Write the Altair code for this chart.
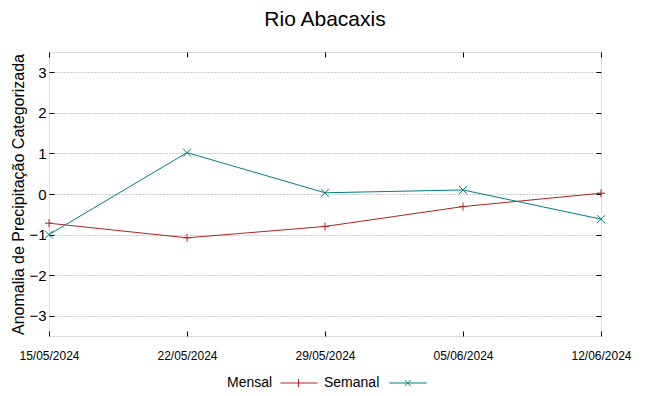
import altair as alt
import pandas as pd

dates = ["2024-05-15", "2024-05-22", "2024-05-29", "2024-06-05", "2024-06-12"]
mensal = [-0.72, -1.08, -0.80, -0.31, 0.02]
semanal = [-1.00, 1.02, 0.03, 0.10, -0.62]
series = ["Mensal", "Semanal"]
colors = ["#b22222", "#008080"]
y_ticks = [-3, -2, -1, 0, 1, 2, 3]

rows = []
for d, m, s in zip(dates, mensal, semanal):
    rows.append({"date": d, "serie": "Mensal", "valor": m})
    rows.append({"date": d, "serie": "Semanal", "valor": s})
df = pd.DataFrame(rows)

FONT = "Liberation Sans"
tick_vals = [alt.DateTime(year=int(d[:4]), month=int(d[5:7]), date=int(d[8:]), utc=True) for d in dates]

xscale = alt.Scale(type="utc", domain=[tick_vals[0], tick_vals[-1]], nice=False)
yscale = alt.Scale(domain=[-3.5, 3.5], nice=False, zero=False)

plus_path = "M-1,0L1,0M0,-1L0,1"
x_path = "M-1,-1L1,1M-1,1L1,-1"
# legend samples drawn to the right of their labels (gnuplot style)
leg_paths = {
    "Mensal": "M64.5,0L101.5,0M82.5,-4L82.5,4",
    "Semanal": "M76.5,0L113.5,0M91.8,-3L97.8,3M91.8,3L97.8,-3",
}
leg_x = {"Mensal": 160, "Semanal": 257}

INWARD = {"expr": "-5"}

color_scale = alt.Scale(domain=series, range=colors)

lines = alt.Chart(df).mark_line(strokeWidth=1, clip=False).encode(
    x=alt.X("date:T", scale=xscale, title=None,
            axis=alt.Axis(values=tick_vals, format="%d/%m/%Y",
                          orient="bottom", tickSize=INWARD, domain=False, grid=False,
                          labelFontSize=12, labelFont=FONT, labelColor="#000", labelPadding=19,
                          tickColor="#000", labelFlush=False)),
    y=alt.Y("valor:Q", scale=yscale,
            title="Anomalia de Precipitação Categorizada",
            axis=alt.Axis(values=y_ticks, orient="left", tickSize=INWARD, domain=False,
                          grid=True, gridColor="#999999", gridDash=[1, 2], gridWidth=1,
                          labelFontSize=15, labelFont=FONT, labelColor="#000", labelPadding=8,
                          tickColor="#000", titleFont=FONT, titleFontSize=16,
                          titleFontWeight="normal", titleColor="#000", titlePadding=2)),
    color=alt.Color("serie:N", scale=color_scale, legend=None),
)

points = alt.Chart(df).mark_point(filled=False, strokeWidth=1, size=64, clip=False, opacity=1).encode(
    x=alt.X("date:T", scale=xscale, title=None,
            axis=alt.Axis(values=tick_vals, orient="top", tickSize=INWARD, domain=False,
                          grid=False, labels=False, tickColor="#000")),
    y=alt.Y("valor:Q", scale=yscale, title=None,
            axis=alt.Axis(values=y_ticks, orient="right", tickSize=INWARD, domain=False,
                          grid=False, labels=False, tickColor="#000")),
    color=alt.Color("serie:N", scale=color_scale, legend=None),
    shape=alt.Shape("serie:N", scale=alt.Scale(domain=series, range=[plus_path, x_path]), legend=None),
)


def legend_layer(name, col):
    return alt.Chart(df).transform_filter("false").mark_point(filled=False, strokeWidth=1).encode(
        x=alt.X("date:T", scale=xscale, axis=None),
        y=alt.Y("valor:Q", scale=yscale, axis=None),
        color=alt.Color("serie:N", scale=alt.Scale(domain=[name], range=[col]), legend=alt.Legend(
            title=None, orient="none", legendX=leg_x[name], legendY=324,
            direction="horizontal", symbolType=leg_paths[name], symbolSize=4,
            symbolStrokeWidth=1, symbolFillColor="transparent", symbolOpacity=1,
            labelFont=FONT, labelFontSize=14, labelColor="#000", labelOffset=4,
            labelLimit=0)),
    )


chart = alt.layer(
    lines, points, legend_layer("Mensal", colors[0]), legend_layer("Semanal", colors[1])
).resolve_axis(
    x="independent", y="independent"
).resolve_scale(color="independent").properties(
    width=552, height=284,
    autosize=alt.AutoSizeParams(type="none"),
    padding={"left": 41, "top": 44, "right": 40, "bottom": 52},
    title=alt.TitleParams("Rio Abacaxis", font=FONT, fontSize=21, fontWeight="normal",
                          color="#000", anchor="middle", offset=22),
).configure_view(stroke="#555", strokeWidth=1).configure(background="white")

chart.save("out.html", embed_options={"renderer": "svg", "actions": False})
